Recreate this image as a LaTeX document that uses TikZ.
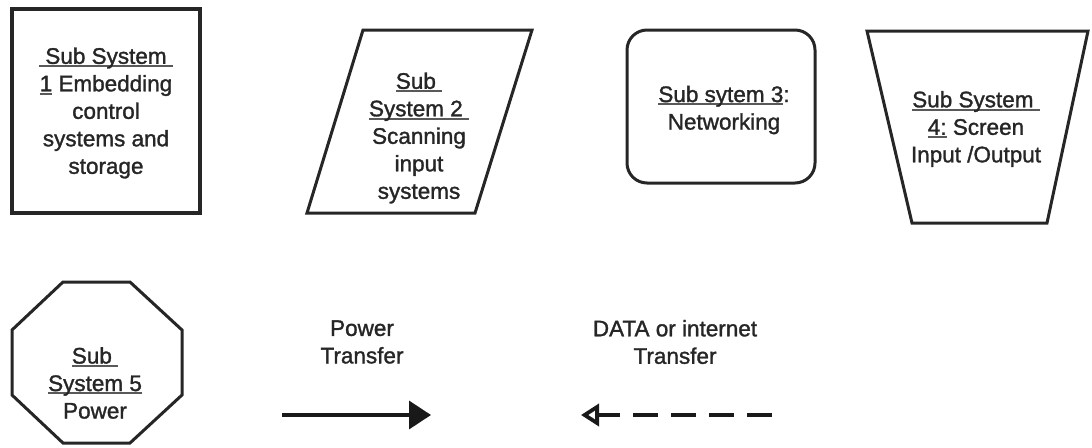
\documentclass[tikz,border=0pt]{standalone}
\usepackage{fontspec}
\setmainfont{Liberation Sans}[FakeBold=1.4]
\usetikzlibrary{arrows.meta}
% underline that also covers spaces, drawn as a grey rule
\newcommand\ulin[1]{\setbox0=\hbox{#1}\rlap{\color{black!65}\rule[-3.4pt]{\wd0}{2pt}}\box0\relax}
\tikzset{
  outline/.style={draw=black!85, line width=3pt, line join=miter},
  label/.style={align=center, text=black!85, inner sep=0pt,
    font=\fontsize{22.5}{27.5}\selectfont},
}
\begin{document}
\begin{tikzpicture}[x=1pt,y=-1pt]
\useasboundingbox (0,0) rectangle (1092,447);
% sub system 1: plain box
\draw[outline, line width=3.5pt] (12,9) rectangle (200,213);
\node[label] (s1) at (106,113) {\ulin{\ Sub System\ }\\\ulin{1} Embedding\\control\\systems and\\storage};
% sub system 2: parallelogram
\draw[outline] (363,30) -- (532,30) -- (475,213) -- (307,213) -- cycle;
\node[label] (s2) at (419,138) {\ulin{Sub\ }\\\ulin{System 2\ }\\Scanning\\input\\systems};
% sub system 3: rounded box
\draw[outline, rounded corners=20pt] (627,30) rectangle (815,183);
\node[label] (s3) at (724,110) {\ulin{Sub sytem 3}:\\Networking};
% sub system 4: trapezium
\draw[outline] (867,31) -- (1088,31) -- (1047,223) -- (912,223) -- cycle;
\node[label] (s4) at (976,129) {\ulin{Sub System\ }\\\ulin{4:} Screen\\Input /Output};
% sub system 5: octagon
\draw[outline] (63,282) -- (130,282) -- (182,330) -- (182,395) -- (130,443)
  -- (63,443) -- (12,395) -- (12,330) -- cycle;
\node[label] (s5) at (95,383) {\ulin{Sub\ }\\\ulin{System 5}\\Power};
% legend
\node[label] (power) at (362,342) {Power\\Transfer};
\node[label] (data) at (675,342) {DATA or internet\\Transfer};
\coordinate (pa) at (282,415);
\coordinate (pb) at (431,415);
\coordinate (da) at (772,415);
\coordinate (db) at (581,415);
\draw[line width=3.5pt, black!90, -{Triangle[length=22pt,width=28pt]}] (pa) -- (pb);
\draw[line width=3.8pt, black!90, dash pattern=on 25pt off 13pt,
  -{Triangle[open,length=18pt,width=22pt]}] (da) -- (db);
\end{tikzpicture}
\end{document}
